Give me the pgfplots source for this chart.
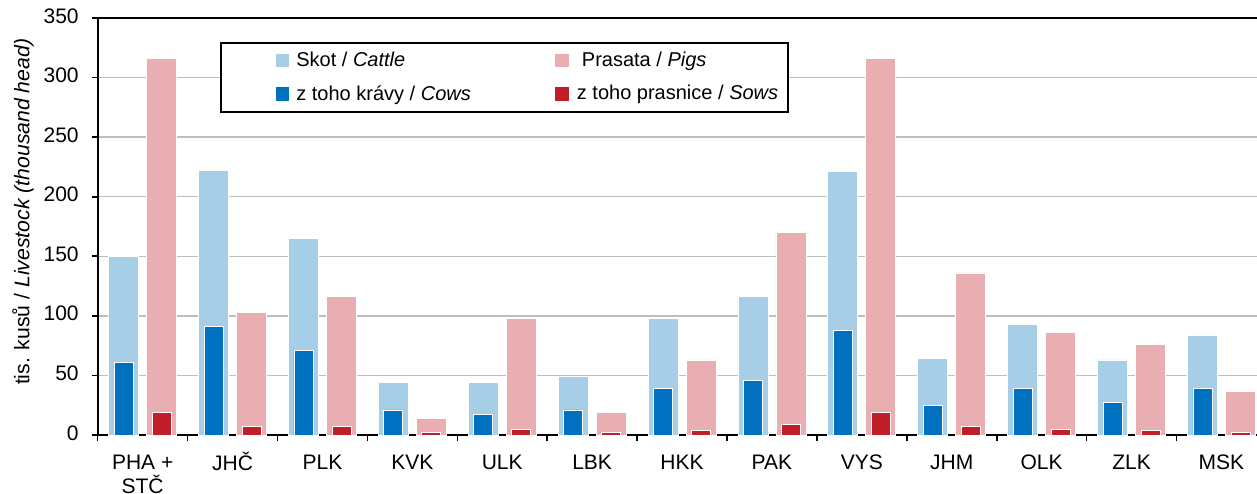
\documentclass[border=0pt]{standalone}
\usepackage{fontspec}
\setmainfont{Liberation Sans}
\usepackage{pgfplots}
\usepackage{pgfplotstable}
\pgfplotsset{compat=1.18}

\definecolor{cattle}{RGB}{166,206,230}
\definecolor{cows}{RGB}{0,112,192}
\definecolor{pigs}{RGB}{232,174,178}
\definecolor{sows}{RGB}{192,30,40}
\definecolor{gridgray}{RGB}{190,190,190}

% thousand head
\pgfplotstableread{
x  cattle cows pigs sows
0  150    61   316  19
1  222    91   103  7.5
2  165    71   116  7.5
3  44     21   14   2
4  44     17   98   5
5  49     21   19   2
6  98     39   63   3.5
7  116    46   170  9
8  221    88   316  19
9  64     25   136  7.5
10 93     39   86   5
11 63     27   76   3.5
12 84     39   37   2
}\livestock

\begin{document}
\begin{tikzpicture}
\path[use as bounding box] (0,0) rectangle (628.5pt,246.5pt);
\begin{axis}[
    at={(48.85pt,29pt)}, anchor=south west,
    scale only axis, width=584.35pt, height=208.5pt,
    xmin=-0.5, xmax=12.5, ymin=0, ymax=350,
    enlargelimits=false,
    ytick={0,50,...,350},
    xtick={0,...,12},
    xticklabels={{PHA +\\[-2pt]STČ},JHČ,PLK,KVK,ULK,LBK,HKK,PAK,VYS,JHM,OLK,ZLK,MSK},
    typeset ticklabels with strut,
    minor xtick={-0.5,0.5,...,12.5},
    tick align=outside,
    tick pos=left,
    major tick length=3pt,
    minor tick length=3pt,
    major x tick style={draw=none},
    minor x tick style={black, line width=0.8pt},
    major y tick style={black, line width=0.8pt},
    axis line style={black, line width=1pt},
    ymajorgrids,
    grid style={gridgray, line width=0.7pt},
    /pgf/number format/assume math mode=true,
    tick label style={font=\fontsize{10.5}{12.5}\selectfont},
    xticklabel style={align=center, yshift=-2pt},
    yticklabel style={xshift=-3pt},
    ylabel={tis. kusů / \textit{Livestock (thousand head)}},
    ylabel style={at={(axis description cs:-0.064,0.535)}, anchor=center,
        font=\fontsize{10.6}{12}\selectfont},
    legend columns=2,
    legend cell align=left,
    legend style={at={(rel axis cs:0.1046,0.9424)}, anchor=north west,
        draw=black, line width=0.8pt, fill=white,
        font=\fontsize{10}{12}\selectfont,
        inner xsep=3pt, inner ysep=2.5pt, row sep=4pt,
        /tikz/every even column/.append style={column sep=0pt}},
]
\addplot[ybar, bar width=15pt, bar shift=-9.5pt, fill=cattle, draw=white, line width=0.4pt, forget plot]
    table[x=x, y=cattle] {\livestock};
\addplot[ybar, bar width=9.5pt, bar shift=-9.5pt, fill=cows, draw=white, line width=0.4pt, forget plot]
    table[x=x, y=cows] {\livestock};
\addplot[ybar, bar width=15pt, bar shift=9.5pt, fill=pigs, draw=white, line width=0.4pt, forget plot]
    table[x=x, y=pigs] {\livestock};
\addplot[ybar, bar width=9.5pt, bar shift=9.5pt, fill=sows, draw=white, line width=0.4pt, forget plot]
    table[x=x, y=sows] {\livestock};

\addlegendimage{legend image code/.code={\path (0pt,0pt); \fill[cattle] (24.5pt,-3pt) rectangle (30.5pt,3pt);}}
\addlegendentry{\makebox[129pt][l]{\hspace{1.5pt}Skot / \textit{Cattle}}}
\addlegendimage{legend image code/.code={\fill[pigs] (0pt,-3pt) rectangle (6pt,3pt);}}
\addlegendentry{\hspace{4.5pt}Prasata / \textit{Pigs}}
\addlegendimage{legend image code/.code={\path (0pt,0pt); \fill[cows] (24.5pt,-3pt) rectangle (30.5pt,3pt);}}
\addlegendentry{\makebox[129pt][l]{\hspace{1.5pt}z toho krávy / \textit{Cows}}}
\addlegendimage{legend image code/.code={\fill[sows] (0pt,-3pt) rectangle (6pt,3pt);}}
\addlegendentry{\hspace{2pt}z toho prasnice / \textit{Sows}}
\end{axis}
\end{tikzpicture}
\end{document}
